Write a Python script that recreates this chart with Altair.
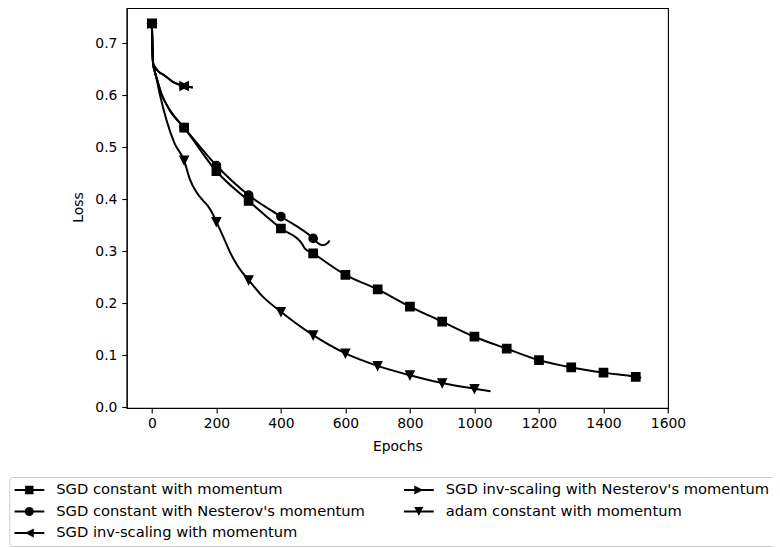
import altair as alt
import pandas as pd

SERIES = [
    "SGD constant with momentum",
    "SGD constant with Nesterov's momentum",
    "SGD inv-scaling with momentum",
    "SGD inv-scaling with Nesterov's momentum",
    "adam constant with momentum",
]

sq_epochs = [0, 2, 4, 8, 14, 29, 55, 100, 200, 300, 350, 400, 464, 474, 500, 600, 700,
             800, 900, 1000, 1100, 1200, 1300, 1400, 1500, 1517]
sq_loss = [0.738, 0.685, 0.660, 0.648, 0.635, 0.604, 0.572, 0.538, 0.454, 0.397, 0.370,
           0.344, 0.316, 0.306, 0.296, 0.255, 0.227, 0.194, 0.165, 0.136, 0.113, 0.091,
           0.077, 0.067, 0.059, 0.057]

nest_epochs = [0, 2, 4, 8, 14, 29, 55, 100, 200, 300, 400, 500, 515, 530, 545, 551]
nest_loss = [0.738, 0.685, 0.660, 0.648, 0.635, 0.604, 0.572, 0.538, 0.465, 0.408, 0.367,
             0.325, 0.316, 0.312, 0.316, 0.321]

inv_epochs = [0, 2, 4, 8, 20, 39, 65, 100, 127]
inv_loss = [0.738, 0.685, 0.661, 0.656, 0.646, 0.638, 0.626, 0.618, 0.615]

invn_epochs = [0, 2, 4, 8, 20, 39, 65, 100, 127]
invn_loss = [0.738, 0.685, 0.661, 0.656, 0.646, 0.638, 0.626, 0.618, 0.615]

adam_epochs = [0, 2, 4, 8, 14, 24, 45, 70, 100, 117, 138, 158, 174, 188, 200, 220, 241,
               267, 300, 344, 400, 500, 600, 700, 800, 900, 1000, 1050]
adam_loss = [0.738, 0.685, 0.660, 0.648, 0.633, 0.604, 0.553, 0.508, 0.475, 0.440, 0.414,
             0.398, 0.387, 0.373, 0.357, 0.330, 0.300, 0.271, 0.245, 0.213, 0.184, 0.139,
             0.104, 0.080, 0.062, 0.047, 0.036, 0.031]

X_TICKS = [0, 200, 400, 600, 800, 1000, 1200, 1400, 1600]
Y_TICKS = [0.0, 0.1, 0.2, 0.3, 0.4, 0.5, 0.6, 0.7]

# marker shapes (unit box) for the plot
PLOT_SHAPES = [
    "M-1,-1H1V1H-1Z",
    "M1,0A1,1,0,1,1,-1,0A1,1,0,1,1,1,0Z",
    "M-1,0L1,-1L1,1Z",
    "M1,0L-1,1L-1,-1Z",
    "M0,1L-1,-1L1,-1Z",
]
# legend handles: a line segment (thin filled bar) with the marker in the middle
BAR = "M-1,-0.07H1V0.07H-1Z"
LEG_SHAPES = [
    BAR + "M-0.28,-0.28H0.28V0.28H-0.28Z",
    BAR + "M0.3,0A0.3,0.3,0,1,1,-0.3,0A0.3,0.3,0,1,1,0.3,0Z",
    BAR + "M-0.3,0L0.3,-0.3L0.3,0.3Z",
    BAR + "M0.3,0L-0.3,0.3L-0.3,-0.3Z",
    BAR + "M-0.3,-0.3L0.3,-0.3L0,0.3Z",
]

rows = []
for name, ep, ls in [
    (SERIES[0], sq_epochs, sq_loss),
    (SERIES[1], nest_epochs, nest_loss),
    (SERIES[2], inv_epochs, inv_loss),
    (SERIES[3], invn_epochs, invn_loss),
    (SERIES[4], adam_epochs, adam_loss),
]:
    for e, l in zip(ep, ls):
        rows.append({"series": name, "epoch": e, "loss": l})
df = pd.DataFrame(rows)
markers = df[df["epoch"] % 100 == 0]
legend_df = pd.DataFrame({"series": SERIES, "epoch": [-5000] * 5, "loss": [0.3] * 5})

FONT = "DejaVu Sans"
W, H = 541.3, 400
SVG_W = 764

xenc = alt.X(
    "epoch:Q",
    scale=alt.Scale(domain=[-78, 1600], nice=False, zero=False),
    axis=alt.Axis(values=X_TICKS, format="d", title="Epochs", labelFlush=False, grid=False,
                  titleX=W / 2, titleY=31),
)
yenc = alt.Y(
    "loss:Q",
    scale=alt.Scale(domain=[-0.001, 0.7678], nice=False, zero=False),
    axis=alt.Axis(values=Y_TICKS, format=".1f", title="Loss", grid=False,
                  titleX=-41, titleY=199),
)

lines = alt.Chart(df).mark_line(color="black", strokeWidth=2, interpolate="monotone").encode(
    x=xenc, y=yenc, detail="series:N"
)

pts = alt.Chart(markers).mark_point(
    filled=True, fill="black", stroke="black", strokeWidth=1.4, size=69, opacity=1
).encode(
    x=xenc, y=yenc,
    shape=alt.Shape("series:N", scale=alt.Scale(domain=SERIES, range=PLOT_SHAPES), legend=None),
)

leg = alt.Chart(legend_df).mark_point(
    filled=True, fill="black", size=900, opacity=1, clip=True
).encode(
    x=xenc, y=yenc,
    shape=alt.Shape(
        "series:N",
        scale=alt.Scale(domain=SERIES, range=LEG_SHAPES),
        legend=alt.Legend(
            orient="none", legendX=-117.4, legendY=469, columns=2, columnPadding=38.5,
            rowPadding=5.5, clipHeight=16, symbolSize=900, symbolStrokeWidth=0,
            symbolFillColor="black", labelFont=FONT,
            labelFontSize=14.7, labelColor="black", labelOffset=12, labelLimit=500,
            padding=5, strokeColor="#cccccc", fillColor="white", cornerRadius=3,
            title=None,
        ),
    ),
)

chart = (
    alt.layer(lines, pts, leg)
    .resolve_scale(shape="independent")
    .properties(
        width=W, height=H,
        padding={"left": 118.7, "top": 0, "right": SVG_W - 118.7 - W, "bottom": 140},
        autosize=alt.AutoSizeParams(type="none"),
    )
    .configure_view(stroke="black", strokeWidth=1.1)
    .configure_axis(
        domainColor="black", domainWidth=1.1, tickColor="black", tickWidth=1.1,
        tickSize=4.9, labelFont=FONT, labelFontSize=13.9, labelColor="black",
        titleFont=FONT, titleFontSize=13.9, titleFontWeight="normal", titleColor="black",
    )
    .configure_axisX(labelPadding=3.5)
    .configure_axisY(labelPadding=4.9)
)

chart.save("out.html", embed_options={"renderer": "svg", "actions": False})
